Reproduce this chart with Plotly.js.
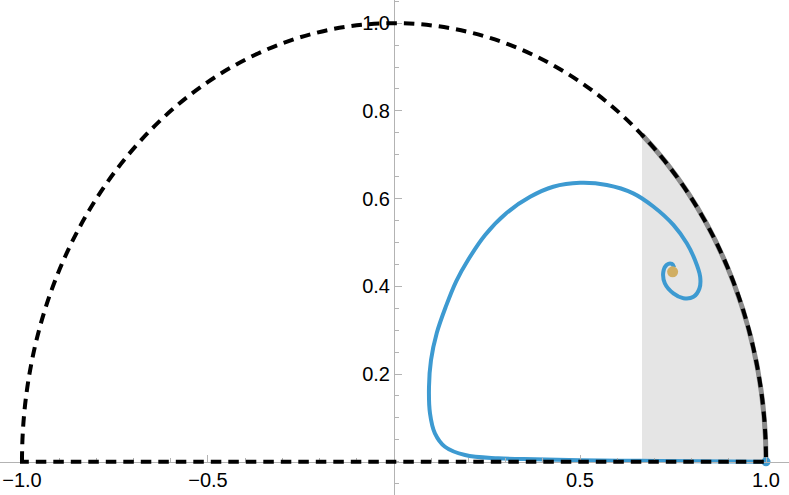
<!DOCTYPE html>
<html>
<head>
<meta charset="utf-8">
<script src="https://cdn.plot.ly/plotly-3.0.1.min.js"></script>
<style>html,body{margin:0;padding:0;background:#fff;}#chart{width:789px;height:495px;}</style>
</head>
<body>
<div id="chart"></div>
<script>
// ---- data ----
const spiralX = [1.0, 0.823, 0.661, 0.5, 0.379, 0.280, 0.191, 0.137, 0.110, 0.0968, 0.0941, 0.0995, 0.1148, 0.139, 0.1675, 0.199, 0.245, 0.301, 0.366, 0.428, 0.5, 0.572, 0.643, 0.697, 0.751, 0.787, 0.809, 0.823, 0.821, 0.805, 0.778, 0.751, 0.728, 0.724, 0.733, 0.747, 0.753];
const spiralY = [0.0, 0.001, 0.002, 0.0035, 0.0055, 0.0078, 0.0153, 0.0342, 0.0648, 0.110, 0.171, 0.232, 0.293, 0.353, 0.412, 0.460, 0.517, 0.566, 0.604, 0.627, 0.636, 0.631, 0.612, 0.582, 0.540, 0.498, 0.460, 0.422, 0.395, 0.376, 0.373, 0.384, 0.407, 0.433, 0.449, 0.451, 0.443];
const startX = [1.0], startY = [0.0];
const fixedX = [0.749], fixedY = [0.433];
const shadeLeft = 2/3;          // left edge of shaded region
const shadeTop = 0.7454;        // circle height at shadeLeft
const xTickVals = [-1, -0.5, 0.5, 1];
const xTickText = ['\u22121.0', '\u22120.5', '0.5', '1.0'];
const yTickVals = [0.2, 0.4, 0.6, 0.8, 1.0];
const yTickText = ['0.2', '0.4', '0.6', '0.8', '1.0'];

// Bezier control constants for circular arcs (unit circle)
const K = 0.5523;       // quarter arc
const K2 = 0.2847;      // arc from shadeLeft to (1,0)

const xr = [-1.0591, 1.0618];
const yr = [-0.0759, 1.0529];

const traces = [
  {x: spiralX, y: spiralY, mode: 'lines', type: 'scatter',
   line: {color: '#3d9ad1', width: 4, shape: 'spline', smoothing: 1.0}, hoverinfo: 'skip'},
  {x: startX, y: startY, mode: 'markers', type: 'scatter',
   marker: {color: '#3d9ad1', size: 9}, hoverinfo: 'skip'},
  {x: fixedX, y: fixedY, mode: 'markers', type: 'scatter',
   marker: {color: '#d1ae62', size: 11}, hoverinfo: 'skip'}
];

const arcShade = `C ${shadeLeft + K2*shadeTop},${shadeTop - K2*shadeLeft} 1,${K2} 1,0`;
const shapes = [
  {type: 'path', xref: 'x', yref: 'y', layer: 'below',
   path: `M ${shadeLeft},0 L ${shadeLeft},${shadeTop} ${arcShade} Z`,
   fillcolor: '#e5e5e5', line: {width: 0}},
  {type: 'path', xref: 'x', yref: 'y', layer: 'below',
   path: `M ${shadeLeft},${shadeTop} ${arcShade}`,
   line: {color: '#8a8a8a', width: 5}},
  {type: 'path', xref: 'x', yref: 'y', layer: 'above',
   path: `M -1,0 C -1,${K} ${-K},1 0,1 C ${K},1 1,${K} 1,0 Z`,
   line: {color: '#000', width: 4, dash: '10.5px,7px'}}
];

const axisCommon = {
  showgrid: false, zeroline: false, showline: true, linecolor: '#b3b3b3', linewidth: 1,
  ticks: 'inside', ticklen: 7, tickwidth: 1, tickcolor: '#b3b3b3',
  tickfont: {family: 'Liberation Sans, Arial, sans-serif', size: 20, color: '#000'},
  tickmode: 'array', fixedrange: true
};

const layout = {
  width: 789, height: 495,
  margin: {l: 0, r: 0, t: 0, b: 0},
  paper_bgcolor: '#fff', plot_bgcolor: '#fff',
  showlegend: false,
  xaxis: Object.assign({}, axisCommon, {
    range: xr, anchor: 'free', position: (0 - yr[0]) / (yr[1] - yr[0]),
    tickvals: xTickVals, ticktext: xTickText,
    minor: {tick0: 0, dtick: 0.1, ticks: 'inside', ticklen: 4, tickcolor: '#b3b3b3', tickwidth: 1}
  }),
  yaxis: Object.assign({}, axisCommon, {
    range: yr, anchor: 'free', position: (0 - xr[0]) / (xr[1] - xr[0]),
    tickvals: yTickVals, ticktext: yTickText,
    minor: {tick0: 0, dtick: 0.05, ticks: 'inside', ticklen: 4, tickcolor: '#b3b3b3', tickwidth: 1}
  }),
  shapes: shapes
};

Plotly.newPlot('chart', traces, layout, {displayModeBar: false, staticPlot: true});
</script>
</body>
</html>
